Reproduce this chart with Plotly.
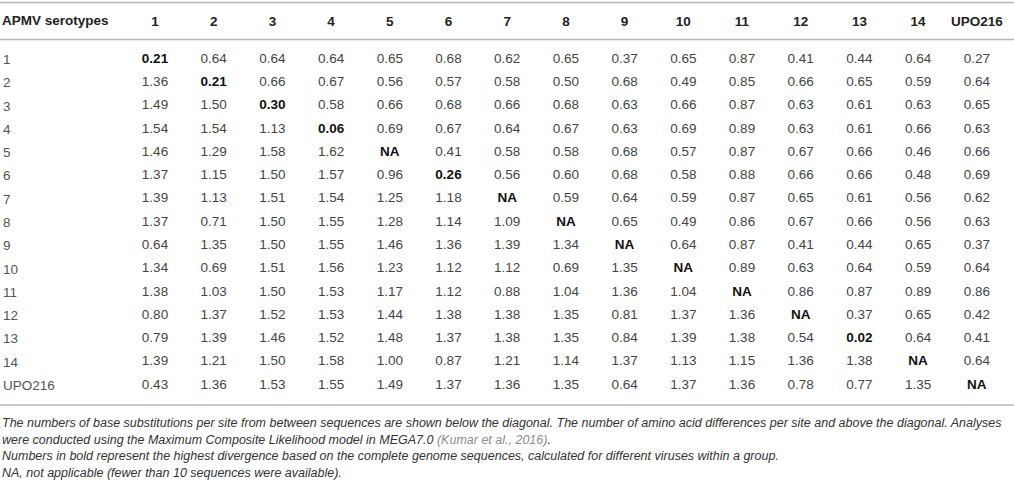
import plotly.graph_objects as go

W, H = 1014, 482

serotypes = ["1", "2", "3", "4", "5", "6", "7", "8", "9", "10", "11", "12", "13", "14", "UPO216"]
diagonal = ["0.21", "0.21", "0.30", "0.06", "NA", "0.26", "NA", "NA", "NA", "NA", "NA", "NA", "0.02", "NA", "NA"]

r1 = [None, 0.64, 0.64, 0.64, 0.65, 0.68, 0.62, 0.65, 0.37, 0.65, 0.87, 0.41, 0.44, 0.64, 0.27]
r2 = [1.36, None, 0.66, 0.67, 0.56, 0.57, 0.58, 0.50, 0.68, 0.49, 0.85, 0.66, 0.65, 0.59, 0.64]
r3 = [1.49, 1.50, None, 0.58, 0.66, 0.68, 0.66, 0.68, 0.63, 0.66, 0.87, 0.63, 0.61, 0.63, 0.65]
r4 = [1.54, 1.54, 1.13, None, 0.69, 0.67, 0.64, 0.67, 0.63, 0.69, 0.89, 0.63, 0.61, 0.66, 0.63]
r5 = [1.46, 1.29, 1.58, 1.62, None, 0.41, 0.58, 0.58, 0.68, 0.57, 0.87, 0.67, 0.66, 0.46, 0.66]
r6 = [1.37, 1.15, 1.50, 1.57, 0.96, None, 0.56, 0.60, 0.68, 0.58, 0.88, 0.66, 0.66, 0.48, 0.69]
r7 = [1.39, 1.13, 1.51, 1.54, 1.25, 1.18, None, 0.59, 0.64, 0.59, 0.87, 0.65, 0.61, 0.56, 0.62]
r8 = [1.37, 0.71, 1.50, 1.55, 1.28, 1.14, 1.09, None, 0.65, 0.49, 0.86, 0.67, 0.66, 0.56, 0.63]
r9 = [0.64, 1.35, 1.50, 1.55, 1.46, 1.36, 1.39, 1.34, None, 0.64, 0.87, 0.41, 0.44, 0.65, 0.37]
r10 = [1.34, 0.69, 1.51, 1.56, 1.23, 1.12, 1.12, 0.69, 1.35, None, 0.89, 0.63, 0.64, 0.59, 0.64]
r11 = [1.38, 1.03, 1.50, 1.53, 1.17, 1.12, 0.88, 1.04, 1.36, 1.04, None, 0.86, 0.87, 0.89, 0.86]
r12 = [0.80, 1.37, 1.52, 1.53, 1.44, 1.38, 1.38, 1.35, 0.81, 1.37, 1.36, None, 0.37, 0.65, 0.42]
r13 = [0.79, 1.39, 1.46, 1.52, 1.48, 1.37, 1.38, 1.35, 0.84, 1.39, 1.38, 0.54, None, 0.64, 0.41]
r14 = [1.39, 1.21, 1.50, 1.58, 1.00, 0.87, 1.21, 1.14, 1.37, 1.13, 1.15, 1.36, 1.38, None, 0.64]
r_upo = [0.43, 1.36, 1.53, 1.55, 1.49, 1.37, 1.36, 1.35, 0.64, 1.37, 1.36, 0.78, 0.77, 1.35, None]

rows = [r1, r2, r3, r4, r5, r6, r7, r8, r9, r10, r11, r12, r13, r14, r_upo]

notes = [
    "The numbers of base substitutions per site from between sequences are shown below the diagonal. "
    "The number of amino acid differences per site and above the diagonal. Analyses",
    "were conducted using the Maximum Composite Likelihood model in MEGA7.0 "
    "<span style='color:#8c8c8c'>(Kumar et al., 2016)</span>.",
    "Numbers in bold represent the highest divergence based on the complete genome sequences, "
    "calculated for different viruses within a group.",
    "NA, not applicable (fewer than 10 sequences were available).",
]

FONT = "Liberation Sans, Arial, Helvetica"
n = len(serotypes)

# off-diagonal cells
xs, ys, txt = [], [], []
for i, row in enumerate(rows):
    for j, v in enumerate(row):
        if v is not None:
            xs.append(j + 1)
            ys.append(i + 1)
            txt.append("%.2f" % v)

fig = go.Figure()
fig.add_trace(go.Scatter(
    x=xs, y=ys, text=txt, mode="text", textposition="middle center",
    textfont=dict(family=FONT, size=13.5, color="#454545"), hoverinfo="skip"))
fig.add_trace(go.Scatter(
    x=list(range(1, n + 1)), y=list(range(1, n + 1)),
    text=["<b>" + d + "</b>" for d in diagonal], mode="text", textposition="middle center",
    textfont=dict(family=FONT, size=13.5, color="#111"), hoverinfo="skip"))

T = 30          # top margin (px)
ph = H - T      # plot height
pitch_y = 23.29
pitch_x = 58.7

def py(px):
    return (H - px) / ph

fig.update_xaxes(
    range=[1 - 155 / pitch_x, 1 + (W - 155) / pitch_x],
    side="top", tickmode="array", tickvals=list(range(1, n + 1)),
    ticktext=["<b>" + s + "</b>" for s in serotypes],
    tickfont=dict(family=FONT, size=13.5, color="#222"),
    showgrid=False, zeroline=False, showline=False, ticks="", ticklen=0,
    automargin=False)
fig.update_yaxes(
    range=[15 + (H - 385.3) / pitch_y, 1 - (59.3 - T) / pitch_y],
    tickmode="array", tickvals=list(range(1, n + 1)), ticktext=serotypes,
    ticklabelposition="inside", ticklen=0, ticklabelstandoff=0,
    tickfont=dict(family=FONT, size=13.5, color="#555"),
    showgrid=False, zeroline=False, showline=False, ticks="",
    automargin=False)

for ypx in [2.5, 39.5, 405]:
    fig.add_shape(type="line", xref="paper", yref="paper", x0=0, x1=1,
                  y0=py(ypx), y1=py(ypx), line=dict(color="#b8b8b8", width=1.6))

fig.add_annotation(text="<b>APMV serotypes</b>", xref="paper", yref="paper",
                   x=0.0, y=py(20), xanchor="left", yanchor="middle", showarrow=False,
                   font=dict(family=FONT, size=13.5, color="#222"))

for k, t in enumerate(notes):
    fig.add_annotation(text="<i>" + t + "</i>", xref="paper", yref="paper",
                       x=0.0, y=py(423 + 16.5 * k), xanchor="left", yanchor="middle",
                       showarrow=False,
                       font=dict(family=FONT, size=12.5, color="#333"))

fig.update_layout(width=W, height=H, margin=dict(l=0, r=0, t=T, b=0, pad=0),
                  paper_bgcolor="white", plot_bgcolor="white", showlegend=False)

# the page body has a default 8px margin; drop it so the figure sits at the corner
fig.write_html("out.html", config={"displayModeBar": False},
               post_script="document.body.style.margin='0';")
